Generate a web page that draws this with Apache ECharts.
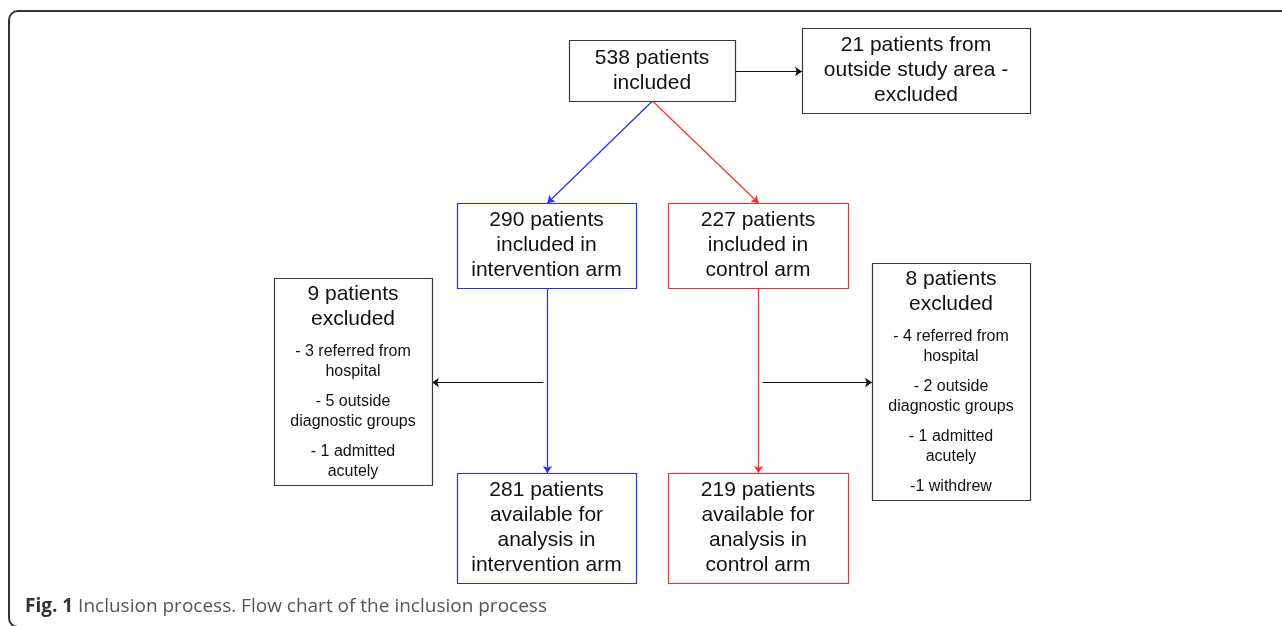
<!DOCTYPE html>
<html>
<head>
<meta charset="utf-8">
<script src="https://cdn.jsdelivr.net/npm/echarts@6/dist/echarts.min.js"></script>
<style>
  html, body { margin: 0; padding: 0; background: #fff; }
  #flow { width: 1282px; height: 626px; }
</style>
</head>
<body>
<div id="flow"></div>
<script>
// patient counts per box, '#' in the heading is replaced by the count
var counts = [538, 21, 290, 227, 9, 8, 281, 219];
var headings = [
  '# patients\nincluded',
  '# patients from\noutside study area -\nexcluded',
  '# patients\nincluded in\nintervention arm',
  '# patients\nincluded in\ncontrol arm',
  '# patients\nexcluded',
  '# patients\nexcluded',
  '# patients\navailable for\nanalysis in\nintervention arm',
  '# patients\navailable for\nanalysis in\ncontrol arm'
];
var reasonsIntervention = ['- 3 referred from\nhospital', '- 5 outside\ndiagnostic groups', '- 1 admitted\nacutely'];
var reasonsControl = ['- 4 referred from\nhospital', '- 2 outside\ndiagnostic groups', '- 1 admitted\nacutely', '-1 withdrew'];
var captionLabel = 'Fig. 1';
var captionText = 'Inclusion process. Flow chart of the inclusion process';

// layout, [left, top, right, bottom] on hidden 1282 x 626 axes
var boxRects = [
  [569, 40, 735, 101],
  [802, 28, 1030, 113],
  [457, 203, 636, 288],
  [668, 203, 848, 288],
  [274, 278, 432, 485],
  [872, 263, 1030, 500],
  [457, 473, 636, 583],
  [668, 473, 848, 583]
];
var BLUE = '#2a2aff', RED = '#ff2a2a', DARK = '#3a3a3a';
var boxColors = [DARK, DARK, BLUE, RED, DARK, DARK, BLUE, RED];
var boxReasons = [null, null, null, null, reasonsIntervention, reasonsControl, null, null];

function anchor(i, side) {
  var r = boxRects[i];
  var cx = Math.round((r[0] + r[2]) / 2) + 0.5, cy = Math.round((r[1] + r[3]) / 2) + 0.5;
  if (side === 'top') return [cx, r[1]];
  if (side === 'bottom') return [cx, r[3]];
  if (side === 'left') return [r[0], cy];
  return [r[2], cy];
}

var leftX = anchor(2, 'bottom')[0], rightX = anchor(3, 'bottom')[0];
var arrows = [
  { coords: [anchor(0, 'right'), anchor(1, 'left')], lineStyle: { color: '#111' } },
  { coords: [anchor(0, 'bottom'), anchor(2, 'top')], lineStyle: { color: BLUE } },
  { coords: [anchor(0, 'bottom'), anchor(3, 'top')], lineStyle: { color: RED } },
  { coords: [[leftX, boxRects[2][3]], [leftX, boxRects[6][1]]], lineStyle: { color: BLUE } },
  { coords: [[rightX, boxRects[3][3]], [rightX, boxRects[7][1]]], lineStyle: { color: RED } },
  { coords: [[leftX - 4, anchor(4, 'right')[1]], anchor(4, 'right')], lineStyle: { color: '#111' } },
  { coords: [[rightX + 4, anchor(5, 'left')[1]], anchor(5, 'left')], lineStyle: { color: '#111' } }
];

var HEAD_LH = 25, SMALL_LH = 20, GAP = 10;
var FONT = '"Liberation Sans", Arial, Helvetica, sans-serif';

function renderBox(params, api) {
  var i = api.value(0);
  var r = boxRects[i];
  var p0 = api.coord([r[0], r[1]]);
  var p1 = api.coord([r[2], r[3]]);
  var children = [{
    type: 'rect',
    shape: { x: Math.round(p0[0]) + 0.5, y: Math.round(p0[1]) + 0.5, width: Math.round(p1[0] - p0[0]), height: Math.round(p1[1] - p0[1]) },
    style: { fill: '#fff', stroke: boxColors[i], lineWidth: 1.2 }
  }];
  var head = headings[i].replace('#', counts[i]).split('\n');
  var reasons = boxReasons[i] || [];
  var total = head.length * HEAD_LH;
  reasons.forEach(function (t) { total += GAP + t.split('\n').length * SMALL_LH; });
  var cx = (p0[0] + p1[0]) / 2;
  var y = (p0[1] + p1[1]) / 2 - total / 2;
  head.forEach(function (line) {
    children.push({
      type: 'text',
      style: { text: line, x: cx, y: y + HEAD_LH / 2, align: 'center', verticalAlign: 'middle',
        fontFamily: FONT, fontSize: 21, fill: '#111' }
    });
    y += HEAD_LH;
  });
  reasons.forEach(function (t) {
    y += GAP;
    t.split('\n').forEach(function (line) {
      children.push({
        type: 'text',
        style: { text: line, x: cx, y: y + SMALL_LH / 2, align: 'center', verticalAlign: 'middle',
          fontFamily: FONT, fontSize: 16, fill: '#111' }
      });
      y += SMALL_LH;
    });
  });
  return { type: 'group', children: children };
}

var chart = echarts.init(document.getElementById('flow'));
var option = {
  animation: false,
  grid: { left: 0, right: 0, top: 0, bottom: 0 },
  xAxis: { type: 'value', min: 0, max: 1282, show: false },
  yAxis: { type: 'value', min: 0, max: 626, inverse: true, show: false },
  graphic: [
    {
      type: 'rect',
      shape: { x: 9, y: 11, width: 1300, height: 616, r: 9 },
      style: { fill: 'none', stroke: '#333', lineWidth: 2 },
      silent: true
    },
    {
      type: 'text',
      left: 25,
      top: 597,
      style: {
        text: '{b|' + captionLabel + '} ' + captionText,
        fontFamily: '"Open Sans", sans-serif',
        fontSize: 19,
        fill: '#555',
        rich: { b: { fontWeight: 'bold', fontSize: 19, fontFamily: '"Open Sans", sans-serif', fill: '#333' } }
      }
    }
  ],
  series: [
    {
      type: 'lines',
      coordinateSystem: 'cartesian2d',
      polyline: false,
      symbol: ['none', 'arrow'],
      symbolSize: 7,
      lineStyle: { width: 1.2, opacity: 1, curveness: 0 },
      data: arrows,
      z: 1
    },
    {
      type: 'custom',
      coordinateSystem: 'cartesian2d',
      renderItem: renderBox,
      data: boxRects.map(function (r, i) { return [i]; }),
      z: 2
    }
  ]
};
chart.setOption(option);
</script>
</body>
</html>
